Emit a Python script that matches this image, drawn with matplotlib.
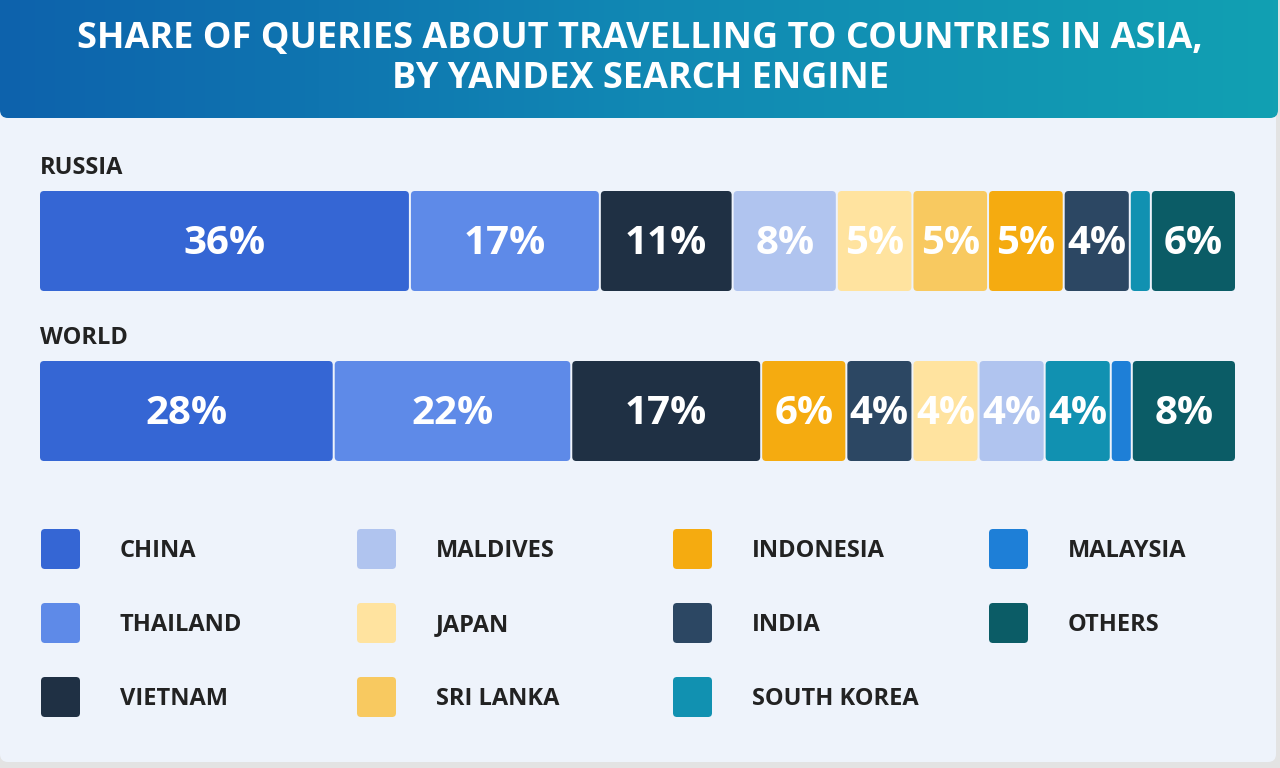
import numpy as np
import matplotlib.pyplot as plt
from matplotlib.patches import FancyBboxPatch
from matplotlib.colors import LinearSegmentedColormap

# Data
countries = ["CHINA", "THAILAND", "VIETNAM", "MALDIVES", "JAPAN", "SRI LANKA",
             "INDONESIA", "INDIA", "SOUTH KOREA", "MALAYSIA", "OTHERS"]
colors = ["#3566d4", "#5e8ae8", "#1f3044", "#b0c4ef", "#ffe39f", "#f8c960",
          "#f5ab10", "#2c4763", "#1191b1", "#1e7fd7", "#0b5c66"]

russia_order = ["CHINA", "THAILAND", "VIETNAM", "MALDIVES", "JAPAN", "SRI LANKA",
                "INDONESIA", "INDIA", "SOUTH KOREA", "OTHERS"]
russia_share = [36, 17, 11, 8, 5, 5, 5, 4, 2, 6]
russia_labeled = [True, True, True, True, True, True, True, True, False, True]

world_order = ["CHINA", "THAILAND", "VIETNAM", "INDONESIA", "INDIA", "JAPAN",
               "MALDIVES", "SOUTH KOREA", "MALAYSIA", "OTHERS"]
world_share = [28, 22, 17, 6, 4, 4, 4, 4, 2, 8]
world_labeled = [True, True, True, True, True, True, True, True, False, True]

title = "SHARE OF QUERIES ABOUT TRAVELLING TO COUNTRIES IN ASIA,\nBY YANDEX SEARCH ENGINE"

FONT = "Open Sans"
TEXT = "#222222"
W, H = 1280, 768

fig = plt.figure(figsize=(W / 100, H / 100), dpi=100, facecolor="#e3e3e3")
ax = fig.add_axes([0, 0, 1, 1])
ax.set_xlim(0, W)
ax.set_ylim(H, 0)
ax.axis("off")

# card background
card = FancyBboxPatch((0, -20), 1276, 782, boxstyle="round,pad=0,rounding_size=8",
                      fc="#eef3fb", ec="none", zorder=0)
ax.add_patch(card)

# header with gradient
head = FancyBboxPatch((0, -20), 1278, 138, boxstyle="round,pad=0,rounding_size=8",
                      fc="none", ec="none", zorder=1)
ax.add_patch(head)
cmap = LinearSegmentedColormap.from_list("hdr", ["#0d62ac", "#1188b4", "#12a0b2"])
grad = np.linspace(0, 1, 256).reshape(1, -1)
im = ax.imshow(grad, cmap=cmap, extent=(0, 1278, 118, -20), aspect="auto", zorder=1)
im.set_clip_path(head)
ax.set_xlim(0, W)
ax.set_ylim(H, 0)

ax.text(640, 59, title, ha="center", va="center", color="white", fontsize=26,
        fontweight="bold", family=FONT, linespacing=1.16, zorder=3)

# stacked bars
bar_x0, bar_x1 = 40, 1235
gap = 2
pad = 26


def draw_row(order, share, labeled, y_top, name):
    ax.text(bar_x0, y_top - 23, name, ha="left", va="center", color=TEXT,
            fontsize=17, fontweight="bold", family=FONT)
    share = np.array(share, dtype=float)
    labeled = np.array(labeled)
    n = len(share)
    free = (bar_x1 - bar_x0) - gap * (n - 1) - pad * labeled.sum()
    unit = free / share.sum()
    widths = share * unit + pad * labeled
    left = bar_x0
    for name_i, v, w, lab in zip(order, share, widths, labeled):
        c = colors[countries.index(name_i)]
        ax.add_patch(FancyBboxPatch((left, y_top), w, 100,
                                    boxstyle="round,pad=0,rounding_size=4",
                                    fc=c, ec="none", zorder=2))
        if lab:
            ax.text(left + w / 2, y_top + 53, f"{int(v)}%", ha="center", va="center",
                    color="white", fontsize=29, fontweight="bold", family=FONT,
                    zorder=3)
        left += w + gap


draw_row(russia_order, russia_share, russia_labeled, 191, "RUSSIA")
draw_row(world_order, world_share, world_labeled, 361, "WORLD")

# legend, column-major 3 rows x 4 cols
col_x = [41, 357, 673, 989]
row_y = [549, 623, 697]
for i, (name_i, c) in enumerate(zip(countries, colors)):
    cx = col_x[i // 3]
    cy = row_y[i % 3]
    ax.add_patch(FancyBboxPatch((cx, cy - 20), 39, 40,
                                boxstyle="round,pad=0,rounding_size=4",
                                fc=c, ec="none", zorder=2))
    ax.text(cx + 79, cy + 2, name_i, ha="left", va="center", color=TEXT, fontsize=17,
            fontweight="bold", family=FONT)

fig.savefig("out.png", dpi=100, facecolor=fig.get_facecolor())
